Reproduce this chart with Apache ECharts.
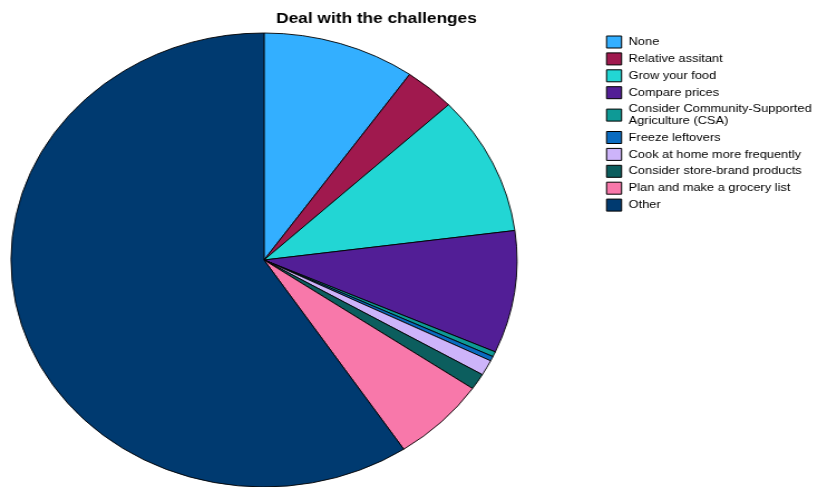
<!DOCTYPE html>
<html><head><meta charset="utf-8">
<script src="https://cdn.jsdelivr.net/npm/echarts@6/dist/echarts.min.js"></script>
<style>
html,body{margin:0;padding:0;background:#fff;}
#wrap{position:relative;width:813px;height:487px;overflow:hidden;}
#chart{position:absolute;left:0;top:0;width:730px;height:487px;transform-origin:0 0;transform:scaleX(1.1145);}
</style></head>
<body>
<div id="wrap"><div id="chart"></div></div>
<script>
const titleText = 'Deal with the challenges';
const categories = ['None','Relative assitant','Grow your food','Compare prices','Consider Community-Supported Agriculture (CSA)','Freeze leftovers','Cook at home more frequently','Consider store-brand products','Plan and make a grocery list','Other'];
const values = [9.75, 3.25, 9.9, 8.7, 0.36, 0.33, 1.1, 1.15, 6.1, 59.25];
const colors = ['#33AFFF','#A0194E','#22D6D4','#521E96','#0E9A96','#0A6BC0','#CDB4FA','#0C5E5E','#F878AA','#003A70'];

const data = categories.map((n,i)=>({name:n,value:values[i],itemStyle:{color:colors[i]}}));
const SX = 1.1145;

const chart = echarts.init(document.getElementById('chart'));
chart.setOption({
  animation:false,
  title:{text:titleText,left:376.5/SX,top:11,textAlign:'center',padding:0,
    textStyle:{fontFamily:'Liberation Sans, Arial, sans-serif',fontSize:15.5,fontWeight:'bold',color:'#000'}},
  legend:{
    orient:'vertical',left:606/SX,top:35.5,padding:0,
    itemWidth:13.5,itemHeight:12,itemGap:3.9,
    icon:'rect',
    itemStyle:{borderColor:'#000',borderWidth:1},
    textStyle:{fontFamily:'Liberation Sans, Arial, sans-serif',fontSize:11.5,color:'#000',lineHeight:12,padding:[0,0,0,1.3]},
    formatter:function(n){return n.replace('Community-Supported ','Community-Supported\n');},
    data:categories
  },
  series:[{
    type:'pie',
    center:[264/SX,260],
    radius:227,
    startAngle:90,
    clockwise:true,
    label:{show:false},
    labelLine:{show:false},
    emphasis:{disabled:true},
    itemStyle:{borderColor:'#000',borderWidth:0.9},
    data:data
  }]
});
</script>
</body></html>
